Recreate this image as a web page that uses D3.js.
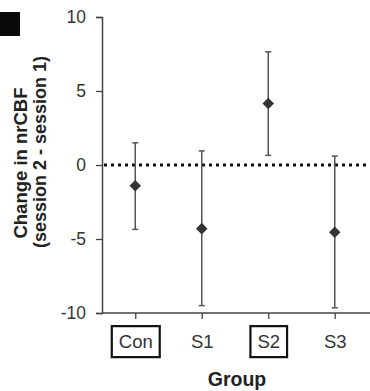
<!DOCTYPE html>
<html>
<head>
<meta charset="utf-8">
<script src="https://cdn.jsdelivr.net/npm/d3@7"></script>
<style>
  body { margin: 0; background: #fff; }
  svg { display: block; font-family: Arial, "Liberation Sans", sans-serif; }
</style>
</head>
<body>
<div id="chart"></div>
<script>
const groups = ['Con', 'S1', 'S2', 'S3'];
const means = [-1.4, -4.3, 4.15, -4.55];
const upper = [1.5, 0.95, 7.65, 0.6];
const lower = [-4.35, -9.5, 0.65, -9.65];
const boxed = ['Con', 'S2'];
const yTicks = [-10, -5, 0, 5, 10];

const width = 370, height = 391;
const svg = d3.select('#chart').append('svg')
  .attr('width', width).attr('height', height);

const x = d3.scalePoint().domain(groups).range([102, 368]).padding(0.5);
const y = d3.scaleLinear().domain([-10, 10]).range([313, 17]);

// black square in the corner
svg.append('rect').attr('x', 0).attr('y', 12).attr('width', 20).attr('height', 24).attr('fill', '#0a0a0a');

// y axis (plain hyphen for negatives, like the original)
const yAxis = svg.append('g').attr('transform', 'translate(102,0)')
  .call(d3.axisLeft(y).tickValues(yTicks).tickFormat(d => String(d)).tickSize(6).tickPadding(10));
yAxis.select('.domain').attr('stroke', '#444').attr('stroke-width', 1.5);
yAxis.selectAll('.tick line').attr('stroke', '#444').attr('stroke-width', 1.3);
yAxis.selectAll('.tick text').attr('font-size', 17.5).attr('fill', '#333');

// x axis
const xAxis = svg.append('g').attr('transform', `translate(0,${y(-10)})`)
  .call(d3.axisBottom(x).tickSize(6).tickPadding(16).tickSizeOuter(0));
xAxis.select('.domain').attr('stroke', '#444').attr('stroke-width', 1.5)
  .attr('d', 'M102,0H370');
xAxis.selectAll('.tick line').attr('stroke', '#444').attr('stroke-width', 1.3);
xAxis.selectAll('.tick text').attr('font-size', 18.5).attr('fill', '#333');

// boxes around labels
xAxis.selectAll('.tick').filter(d => boxed.includes(d)).each(function () {
  const t = d3.select(this).select('text').node().getBBox();
  d3.select(this).insert('rect', 'text')
    .attr('x', t.x - 7).attr('y', t.y - 5)
    .attr('width', t.width + 14).attr('height', t.height + 10)
    .attr('fill', 'none').attr('stroke', '#111').attr('stroke-width', 2.2);
});

// zero line
svg.append('line')
  .attr('x1', 104).attr('x2', 370).attr('y1', y(0)).attr('y2', y(0))
  .attr('stroke', '#111').attr('stroke-width', 3).attr('stroke-dasharray', '3,4');

const data = groups.map((g, i) => ({ g, m: means[i], hi: upper[i], lo: lower[i] }));

const bars = svg.append('g').attr('stroke', '#555').attr('stroke-width', 1.5);
bars.selectAll('.v').data(data).join('line')
  .attr('x1', d => x(d.g)).attr('x2', d => x(d.g))
  .attr('y1', d => y(d.hi)).attr('y2', d => y(d.lo));
bars.selectAll('.cap-hi').data(data).join('line')
  .attr('x1', d => x(d.g) - 3).attr('x2', d => x(d.g) + 3)
  .attr('y1', d => y(d.hi)).attr('y2', d => y(d.hi));
bars.selectAll('.cap-lo').data(data).join('line')
  .attr('x1', d => x(d.g) - 3).attr('x2', d => x(d.g) + 3)
  .attr('y1', d => y(d.lo)).attr('y2', d => y(d.lo));

svg.append('g').selectAll('path').data(data).join('path')
  .attr('d', d3.symbol(d3.symbolDiamond2, 85))
  .attr('transform', d => `translate(${x(d.g)},${y(d.m)})`)
  .attr('fill', '#333');

// axis titles
svg.append('text').attr('transform', 'translate(27,163) rotate(-90)')
  .attr('text-anchor', 'middle').attr('font-size', 18.5).attr('font-weight', 'bold').attr('fill', '#222')
  .text('Change in nrCBF');
svg.append('text').attr('transform', 'translate(46,152) rotate(-90)')
  .attr('text-anchor', 'middle').attr('font-size', 18).attr('font-weight', 'bold').attr('fill', '#222')
  .text('(session 2 - session 1)');
svg.append('text').attr('x', 237).attr('y', 386)
  .attr('text-anchor', 'middle').attr('font-size', 19.5).attr('font-weight', 'bold').attr('fill', '#222')
  .text('Group');
</script>
</body>
</html>
